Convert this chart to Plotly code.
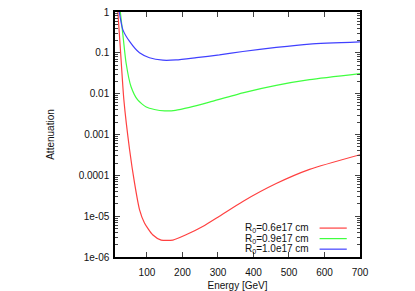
import plotly.graph_objects as go

# Energy samples [GeV] and attenuation values
energy_red = [18, 25, 35, 51, 65, 79, 93, 116, 140, 173, 210, 257, 304, 370, 464, 558, 700]
atten_red = [1.0, 1.3e-1, 7.0e-3, 4.3e-4, 6.5e-5, 1.45e-5, 6.8e-6, 3.5e-6, 2.6e-6, 2.6e-6,
             3.5e-6, 5.6e-6, 1.0e-5, 2.3e-5, 6.3e-5, 1.4e-4, 3.2e-4]

energy_green = [25, 32, 41, 55, 74, 98, 121, 150, 180, 220, 276, 370, 464, 558, 700]
atten_green = [1.0, 2.9e-1, 5.8e-2, 1.5e-2, 7.0e-3, 4.7e-3, 4.1e-3, 3.8e-3, 3.9e-3,
               4.6e-3, 6.2e-3, 1.05e-2, 1.6e-2, 2.2e-2, 3.1e-2]

energy_blue = [22, 32, 51, 79, 107, 145, 182, 239, 304, 370, 464, 558, 700]
atten_blue = [1.0, 3.7e-1, 1.9e-1, 1.0e-1, 7.6e-2, 6.6e-2, 6.7e-2, 7.6e-2, 8.9e-2,
              1.08e-1, 1.36e-1, 1.64e-1, 1.86e-1]

series_names = ["R<sub>0</sub>=0.6e17 cm", "R<sub>0</sub>=0.9e17 cm", "R<sub>0</sub>=1.0e17 cm"]
series_colors = ["#ff4040", "#40ff40", "#4040ff"]

x_ticks = [100, 200, 300, 400, 500, 600, 700]
y_tickvals = [1, 0.1, 0.01, 0.001, 0.0001, 1e-5, 1e-6]
y_ticktext = ["1", "0.1", "0.01", "0.001", "0.0001", "1e-05", "1e-06"]

FONT = "Liberation Sans, Arial, sans-serif"

fig = go.Figure()
for xs, ys, name, col in zip([energy_red, energy_green, energy_blue],
                             [atten_red, atten_green, atten_blue],
                             series_names, series_colors):
    fig.add_trace(go.Scatter(x=xs, y=ys, mode="lines", name=name,
                             line=dict(color=col, width=1.2, shape="spline", smoothing=0.6),
                             showlegend=False, hoverinfo="skip"))

# gnuplot-style legend: text right-aligned, sample line on the right
legend_y = [0.118, 0.075, 0.032]
for name, col, ly in zip(series_names, series_colors, legend_y):
    fig.add_annotation(xref="paper", yref="paper", x=0.80, y=ly, text=name,
                       showarrow=False, xanchor="right", yanchor="middle",
                       font=dict(family=FONT, size=10, color="#111"))
    fig.add_shape(type="line", xref="paper", yref="paper", x0=0.835, x1=0.946,
                  y0=ly, y1=ly, line=dict(color=col, width=1.2))

minor_vals = [m * 10.0 ** e for e in range(-6, 0) for m in range(2, 10)]

fig.update_layout(
    width=415, height=291,
    margin=dict(l=115, r=55, t=12, b=34),
    paper_bgcolor="white", plot_bgcolor="white",
    font=dict(family=FONT, size=10, color="#111"),
    xaxis=dict(range=[10, 700], tickvals=x_ticks, ticks="inside", ticklen=5,
               showline=True, linecolor="black", linewidth=1.5, mirror="ticks",
               showgrid=False, zeroline=False, tickfont=dict(size=10),
               ticklabelstandoff=5, automargin=False,
               title=dict(text="Energy [GeV]", standoff=9, font=dict(size=10))),
    yaxis=dict(type="log", range=[-6, 0], tickvals=y_tickvals, ticktext=y_ticktext,
               ticks="inside", ticklen=5, showline=True, linecolor="black",
               linewidth=1.5, mirror="ticks", showgrid=False, zeroline=False,
               tickfont=dict(size=10), ticklabelstandoff=2, automargin=False,
               minor=dict(tickvals=minor_vals, ticks="inside", ticklen=3, showgrid=False),
               title=dict(text="Attenuation", standoff=22, font=dict(size=10))),
)

fig.write_html("out.html", config={"displayModeBar": False},
               post_script="document.body.style.margin='0';")
